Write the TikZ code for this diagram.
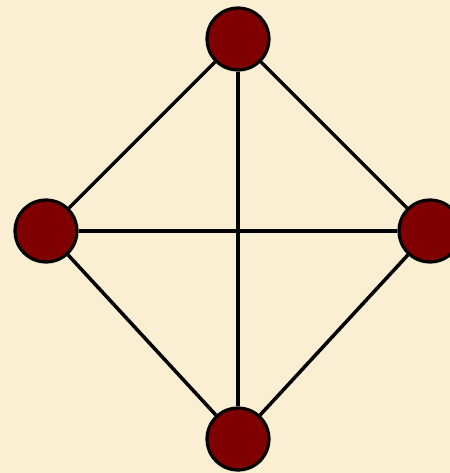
\documentclass[tikz,border=0pt]{standalone}
\usepackage{tikz}
\usepackage{xcolor}
\definecolor{Backdrop}{HTML}{FAEFD2}
\definecolor{VertexFill}{HTML}{7F0000}
\tikzset{
  vertexnode/.style={circle,draw=black,fill=VertexFill,line width=1.8pt,minimum size=1.24cm,inner sep=0pt},
  edgeline/.style={draw=black,line width=2pt}
}
\begin{document}
\begin{tikzpicture}
\clip (0,0) rectangle (9,-9.46);
\fill[Backdrop] (0,0) rectangle (9,-9.46);
\node[vertexnode] (top) at (4.76,-0.78) {};
\node[vertexnode] (left) at (0.92,-4.62) {};
\node[vertexnode] (right) at (8.6,-4.62) {};
\node[vertexnode] (bottom) at (4.76,-8.78) {};
\draw[edgeline] (top) -- (left);
\draw[edgeline] (top) -- (right);
\draw[edgeline] (top) -- (bottom);
\draw[edgeline] (left) -- (right);
\draw[edgeline] (left) -- (bottom);
\draw[edgeline] (right) -- (bottom);
\end{tikzpicture}
\end{document}
